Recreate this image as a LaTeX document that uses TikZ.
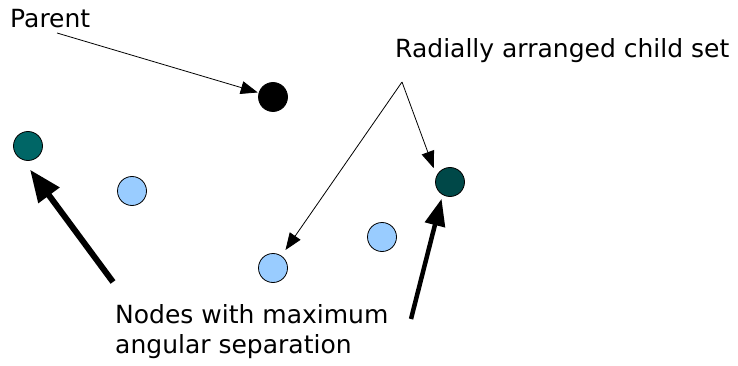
\documentclass[tikz,border=0pt]{standalone}
\usepackage{fontspec}
\setmainfont{DejaVu Sans}
\usetikzlibrary{arrows.meta}
\definecolor{tealnode}{RGB}{0,102,102}
\definecolor{darknode}{RGB}{0,72,72}
\definecolor{childnode}{RGB}{153,204,255}

\begin{document}
\begin{tikzpicture}[x=1pt,y=-1pt,
  vert/.style={circle,draw,line width=0.8pt,minimum size=29pt,inner sep=0pt},
  lbl/.style={inner sep=0pt,anchor=base west,align=left,font=\fontsize{25}{30}\selectfont},
  thinarr/.style={-{Triangle[length=17pt,width=13pt]},line width=0.8pt},
  bigarr/.style={-{Triangle[length=32pt,width=25pt]},line width=6pt}]
\useasboundingbox (0,0) rectangle (738,366);
\node [vert,fill=black] (par) at (273,97) {};
\node [vert,fill=tealnode] (left) at (28,146) {};
\node [vert,fill=childnode] (kid1) at (132,191) {};
\node [vert,fill=childnode] (kid2) at (273,268) {};
\node [vert,fill=childnode] (kid3) at (382,237) {};
\node [vert,fill=darknode] (right) at (450,182) {};
\node [lbl] (partxt) at (10,28) {Parent};
\node [lbl] (kidtxt) at (395,58) {Radially arranged child set};
\node [lbl] (maxtxt) at (115,353) {Nodes with maximum\\angular separation};
\coordinate (partail) at (57,33);
\coordinate (kidtail) at (402,82);
\coordinate (lefttail) at (113,282);
\coordinate (righttail) at (411,319);
\draw [thinarr,shorten >=1pt] (partail) -- (par);
\draw [thinarr,shorten >=7pt] (kidtail) -- (kid2);
\draw [thinarr,shorten >=8pt] (kidtail) -- (right.155);
\draw [bigarr,shorten >=12pt] (lefttail) -- (left.250);
\draw [bigarr,line width=4.5pt,-{Triangle[length=27pt,width=20pt]},shorten >=4pt] (righttail) -- (right.240);
\end{tikzpicture}
\end{document}
